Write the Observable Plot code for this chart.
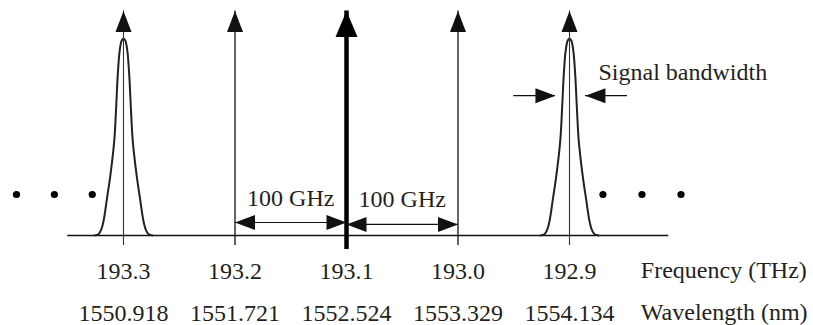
<!DOCTYPE html>
<html><head><meta charset="utf-8">
<script src="https://cdn.jsdelivr.net/npm/d3@7"></script>
<script src="https://cdn.jsdelivr.net/npm/@observablehq/plot@0.6"></script>
<style>html,body{margin:0;padding:0;background:#fff;} #chart{width:813px;height:325px;}</style>
</head><body><div id="chart"></div>
<script>
// Channel grid (ITU 100 GHz)
const channelFreqTHz = [193.3, 193.2, 193.1, 193.0, 192.9];
const channelWavelengthNm = ["1550.918", "1551.721", "1552.524", "1553.329", "1554.134"];
const channelKind = ["signal", "carrier", "reference", "carrier", "signal"];
const channelArrowLevel = [1.14, 1.14, 1.14, 1.14, 1.14];

// Signal spectrum shape (offset from channel centre, relative level)
const profileOffsetGHz = [26, 22.5, 20, 17.9, 15, 11.9, 8.3, 6.6, 5.2, 3.4, 1.6, 0, -1.6, -3.4, -5.2, -6.6, -8.3, -11.9, -15, -17.9, -20, -22.5, -26];
const profileLevel = [0, 0.006, 0.03, 0.074, 0.181, 0.3, 0.48, 0.65, 0.81, 0.94, 0.99, 1, 0.99, 0.94, 0.81, 0.65, 0.48, 0.3, 0.181, 0.074, 0.03, 0.006, 0];

// Channel spacing markers
const spacingFromTHz = [193.2, 193.1];
const spacingToTHz = [193.1, 193.0];
const spacingLevel = [0.066, 0.056];
const spacingLabel = ["100 GHz", "100 GHz"];
const spacingLabelLevel = [0.152, 0.147];

// Ellipsis dots
const ellipsisTHz = [193.396, 193.362, 193.328, 192.870, 192.835, 192.800];
const ellipsisLevel = 0.208;

// Baseline extent
const baselineTHz = [193.350, 192.811];

// Signal bandwidth marker
const bandwidthTailTHz = [192.950, 192.848];
const bandwidthTipTHz = [192.9126, 192.8857];
const bandwidthLevel = 0.71;
const bandwidthLabel = "Signal bandwidth";
const bandwidthLabelTHz = 192.874;
const bandwidthLabelLevel = 0.787;

// Row titles
const rowTitles = ["Frequency (THz)", "Wavelength (nm)"];
const rowTitleTHz = 192.836;
const rowTitleLevel = [-0.218, -0.431];

// ---- build tables ----
const channels = channelFreqTHz.map((f, i) => ({f, wl: channelWavelengthNm[i], kind: channelKind[i], tip: channelArrowLevel[i]}));
const profile = channels.filter(c => c.kind === "signal").flatMap(c =>
  profileOffsetGHz.map((o, j) => ({ch: c.f, f: c.f + o / 1000, v: profileLevel[j]})));
const spacing = spacingFromTHz.map((a, i) => ({a, b: spacingToTHz[i], y: spacingLevel[i], label: spacingLabel[i], ly: spacingLabelLevel[i], mid: (a + spacingToTHz[i]) / 2}));
const bandwidth = bandwidthTailTHz.map((t, i) => ({tail: t, tip: bandwidthTipTHz[i], y: bandwidthLevel, rot: i === 0 ? 90 : -90}));
const rows = rowTitles.map((t, i) => ({t, y: rowTitleLevel[i]}));

function head(w, h) {
  return {draw(ctx) { ctx.moveTo(0, 0); ctx.lineTo(w / 2, h); ctx.lineTo(-w / 2, h); ctx.closePath(); }};
}
const thinHead = head(16, 21);
const thickHead = head(22, 26);
const sideHead = head(15, 20);

const ink = "#111";
const txt = "#231f20";
const font = "Liberation Serif";

const chart = Plot.plot({
  width: 813, height: 325,
  marginTop: 0, marginRight: 0, marginBottom: 90, marginLeft: 0,
  x: {domain: [193.3, 192.9], range: [123, 569], label: null},
  y: {domain: [0, 1], range: [235, 38], axis: null, label: null},
  style: {fontFamily: font, color: txt, background: "#fff", overflow: "visible"},
  marks: [
    Plot.ruleY([0], {x1: baselineTHz[0], x2: baselineTHz[1], stroke: ink, strokeWidth: 1.3}),
    Plot.line(profile, {x: "f", y: "v", z: "ch", curve: "catmull-rom", stroke: "#222", strokeWidth: 2}),
    Plot.ruleX(channels.filter(d => d.kind === "signal"), {x: "f", y1: 0, y2: "tip", insetTop: 10, stroke: "#333", strokeWidth: 1.1}),
    Plot.ruleX(channels.filter(d => d.kind === "carrier"), {x: "f", y1: 0, y2: "tip", insetTop: 10, stroke: ink, strokeWidth: 1.3}),
    Plot.ruleX(channels.filter(d => d.kind === "reference"), {x: "f", y1: 0, y2: "tip", insetTop: 14, stroke: "#000", strokeWidth: 4.5}),
    Plot.dot(channels.filter(d => d.kind !== "reference"), {x: "f", y: "tip", symbol: thinHead, fill: ink, stroke: "none"}),
    Plot.dot(channels.filter(d => d.kind === "reference"), {x: "f", y: "tip", symbol: thickHead, fill: "#000", stroke: "none"}),
    // spacing arrows
    Plot.ruleY(spacing, {y: "y", x1: "a", x2: "b", stroke: ink, strokeWidth: 1.2}),
    Plot.dot(spacing, {x: "a", y: "y", symbol: sideHead, rotate: -90, fill: ink, stroke: "none"}),
    Plot.dot(spacing, {x: "b", y: "y", symbol: sideHead, rotate: 90, fill: ink, stroke: "none"}),
    Plot.text(spacing, {x: "mid", y: "ly", text: "label", lineAnchor: "bottom", fontSize: 24, fontFamily: font, fill: txt}),
    // bandwidth arrows
    Plot.ruleY(bandwidth, {y: "y", x1: "tail", x2: "tip", stroke: ink, strokeWidth: 1.2}),
    Plot.dot(bandwidth, {x: "tip", y: "y", symbol: sideHead, rotate: "rot", fill: ink, stroke: "none"}),
    Plot.text([bandwidthLabel], {x: bandwidthLabelTHz, y: bandwidthLabelLevel, text: d => d, textAnchor: "start", lineAnchor: "bottom", fontSize: 24, fontFamily: font, fill: txt}),
    // ellipsis
    Plot.dot(ellipsisTHz, {x: d => d, y: ellipsisLevel, r: 3.6, fill: "#000", stroke: "none"}),
    // axes: frequency and wavelength rows
    Plot.axisX(channelFreqTHz, {tickFormat: d => d.toFixed(1), tickSize: 0, tickPadding: 26, fontSize: 24, fontFamily: font, fill: txt, label: null}),
    Plot.axisX(channelFreqTHz, {tickFormat: d => channelWavelengthNm[channelFreqTHz.indexOf(d)], tickSize: 0, tickPadding: 68, fontSize: 24, fontFamily: font, fill: txt, label: null}),
    Plot.text(rows, {x: rowTitleTHz, y: "y", text: "t", textAnchor: "start", lineAnchor: "bottom", fontSize: 24, fontFamily: font, fill: txt})
  ]
});
document.getElementById("chart").appendChild(chart);
</script>
</body></html>
